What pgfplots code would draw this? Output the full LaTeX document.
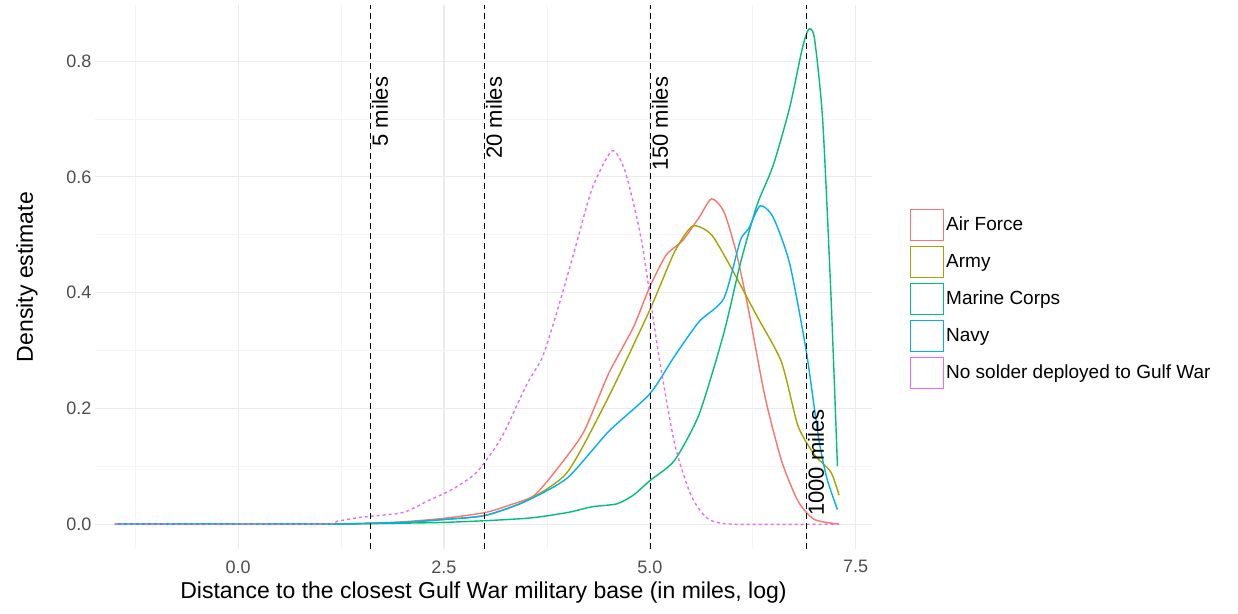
\documentclass[border=0pt]{standalone}
\usepackage{pgfplots}
\pgfplotsset{compat=1.18}
\usepackage{fontspec}
\setmainfont{Liberation Sans}
\definecolor{caf}{HTML}{F8766D}
\definecolor{car}{HTML}{A3A500}
\definecolor{cmc}{HTML}{00BF7D}
\definecolor{cnv}{HTML}{00B0F6}
\definecolor{cno}{HTML}{E76BF3}
\definecolor{gmaj}{HTML}{EBEBEB}
\definecolor{gmin}{HTML}{F4F4F4}
\definecolor{tickc}{HTML}{4D4D4D}
\begin{document}
\begin{tikzpicture}
\useasboundingbox (0,0) rectangle (1238pt,613pt);
\begin{axis}[at={(95pt,64pt)}, anchor=south west,
 scale only axis, width=777pt, height=544pt,
 xmin=-1.74, xmax=7.70, ymin=-0.043, ymax=0.897,
 axis line style={draw=none}, tick style={draw=none},
 xtick={0,2.5,5,7.5}, xticklabels={0.0,2.5,5.0,7.5},
 ytick={0,0.2,0.4,0.6,0.8}, yticklabels={0.0,0.2,0.4,0.6,0.8},
 minor xtick={-1.25,1.25,3.75,6.25}, minor ytick={0.1,0.3,0.5,0.7},
 grid=both, major grid style={gmaj, line width=1.2pt}, minor grid style={gmin, line width=0.7pt},
 ticklabel style={font=\fontsize{18}{20}\selectfont, text=tickc},
 xticklabel style={yshift=-8pt},
 xlabel={Distance to the closest Gulf War military base (in miles, log)},
 ylabel={Density estimate},
 label style={font=\fontsize{23}{26}\selectfont},
 xlabel style={yshift=-2pt}, ylabel style={yshift=22pt},
 clip=false,
 legend style={at={(1.045,0.46)}, anchor=west, draw=none, font=\fontsize{19}{21}\selectfont, row sep=5pt, legend cell align=left},
 legend image code/.code={\draw[#1,solid,line width=1pt] (0pt,-15.5pt) rectangle (33pt,15.5pt);},
 every axis plot/.append style={line width=1.4pt, smooth, tension=0.4},
]
\addplot[caf] coordinates {(-1.5,0)(1.0,0)(1.5,0.001)(2.0,0.004)(2.5,0.01)(3.0,0.02)(3.3,0.033)(3.6,0.05)(3.9,0.1)(4.2,0.16)(4.5,0.26)(4.8,0.34)(5.0,0.41)(5.2,0.465)(5.4,0.49)(5.6,0.53)(5.75,0.562)(5.9,0.54)(6.05,0.47)(6.2,0.37)(6.4,0.22)(6.6,0.11)(6.8,0.04)(7.0,0.008)(7.3,0)};
\addlegendentry{Air Force}
\addplot[car] coordinates {(-1.5,0)(1.0,0)(1.5,0.001)(2.0,0.003)(2.5,0.008)(3.0,0.015)(3.5,0.04)(4.0,0.09)(4.5,0.22)(5.0,0.37)(5.3,0.47)(5.52,0.515)(5.75,0.5)(6.0,0.44)(6.3,0.36)(6.6,0.28)(6.8,0.17)(7.0,0.12)(7.2,0.09)(7.3,0.05)};
\addlegendentry{Army}
\addplot[cmc] coordinates {(-1.5,0)(1.0,0)(2.5,0.003)(3.5,0.01)(4.0,0.02)(4.3,0.03)(4.6,0.035)(4.8,0.05)(5.0,0.075)(5.3,0.11)(5.6,0.19)(5.9,0.33)(6.1,0.45)(6.3,0.55)(6.5,0.62)(6.7,0.72)(6.85,0.82)(6.93,0.855)(7.0,0.84)(7.1,0.7)(7.2,0.4)(7.28,0.1)};
\addlegendentry{Marine Corps}
\addplot[cnv] coordinates {(-1.5,0)(1.0,0)(2.0,0.003)(2.5,0.008)(3.0,0.015)(3.5,0.04)(4.0,0.08)(4.5,0.16)(5.0,0.225)(5.3,0.29)(5.6,0.35)(5.9,0.39)(6.1,0.49)(6.2,0.51)(6.34,0.55)(6.5,0.53)(6.7,0.45)(6.9,0.3)(7.05,0.15)(7.15,0.08)(7.28,0.025)};
\addlegendentry{Navy}
\addplot[cno,dashed] coordinates {(-1.5,0)(1.0,0)(1.2,0.005)(1.5,0.012)(2.0,0.02)(2.3,0.04)(2.6,0.06)(2.9,0.09)(3.2,0.15)(3.5,0.24)(3.7,0.29)(3.9,0.38)(4.1,0.48)(4.3,0.58)(4.54,0.645)(4.7,0.61)(4.9,0.49)(5.1,0.3)(5.3,0.14)(5.5,0.05)(5.7,0.01)(6.0,0)(7.3,0)};
\addlegendentry{No solder deployed to Gulf War}
\pgfplotsinvokeforeach{1.609,2.996,5.011,6.908}{\draw[black,dash pattern=on 6pt off 4pt,line width=1.3pt] (axis cs:#1,-0.043) -- (axis cs:#1,0.897);}
\begin{scope}[every node/.style={rotate=90,anchor=north east,font=\fontsize{22}{24}\selectfont,inner sep=1pt}]
\node at (axis cs:1.609,0.775) {5 miles};
\node at (axis cs:2.996,0.775) {20 miles};
\node at (axis cs:5.011,0.775) {150 miles};
\node at (axis cs:6.908,0.20) {1000 miles};
\end{scope}
\end{axis}
\end{tikzpicture}
\end{document}
